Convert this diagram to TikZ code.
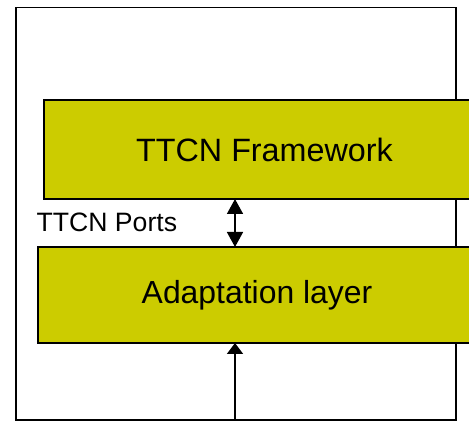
\documentclass[tikz,border=0pt]{standalone}
\usepackage{fontspec}
\setmainfont{Liberation Sans}
\usetikzlibrary{arrows.meta}
\definecolor{boxfill}{RGB}{204,204,0}
\tikzset{
  layerbox/.style={draw=black, line width=1.5pt, fill=boxfill},
  layertext/.style={font=\fontsize{32.3}{37}\selectfont, inner sep=0pt},
  adtext/.style={font=\fontsize{31.9}{37}\selectfont, inner sep=0pt},
  portlabel/.style={font=\fontsize{26.6}{30}\selectfont, inner sep=0pt, anchor=west},
  conn/.style={line width=1.6pt},
}
\begin{document}
\begin{tikzpicture}[x=1pt,y=-1pt]
\useasboundingbox (0,0) rectangle (469,422);
\clip (0,0) rectangle (469,422);
% outer frame
\draw[line width=1.9pt] (15.8,7.5) rectangle (456,420);
% layers
\draw[layerbox] (44,100) rectangle (480,199);
\coordinate (fwB) at (235,199);
\draw[layerbox] (38,247) rectangle (480,343);
\coordinate (adT) at (235,247);
\coordinate (adB) at (235,343);
\coordinate (src) at (235,420);
\node[layertext] (fw) at (264.5,150) {TTCN Framework};
\node[adtext] (ad) at (257,295) {Adaptation layer};
\node[portlabel] (ports) at (36.5,222) {TTCN Ports};
% connectors
\draw[conn, {Triangle[width=16pt,length=15pt]}-{Triangle[width=16pt,length=15pt]}] (fwB) -- (adT);
\draw[conn, -{Triangle[width=16pt,length=11pt]}] (src) -- (adB);
\end{tikzpicture}
\end{document}
